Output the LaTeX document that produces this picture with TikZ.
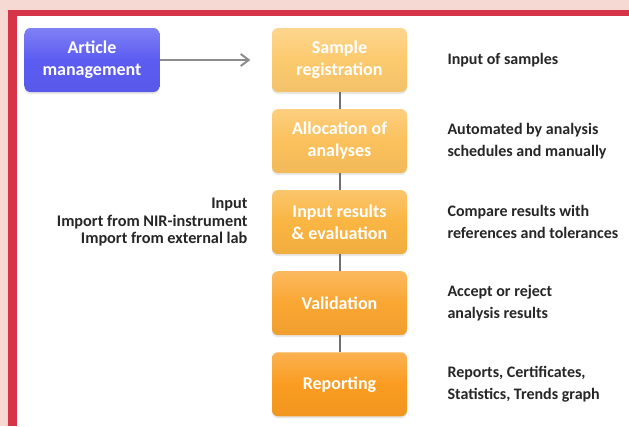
\documentclass[tikz,border=0pt]{standalone}
\usepackage{fontspec}
\setmainfont{Carlito}
\usetikzlibrary{arrows.meta,positioning,shadows}
\definecolor{framepink}{RGB}{246,217,211}
\definecolor{framered}{RGB}{214,52,72}
\definecolor{articleblue}{RGB}{92,92,242}
\definecolor{stepone}{RGB}{252,202,110}
\definecolor{steptwo}{RGB}{251,193,92}
\definecolor{stepthree}{RGB}{250,181,66}
\definecolor{stepfour}{RGB}{250,166,50}
\definecolor{stepfive}{RGB}{250,156,32}
\definecolor{linkgrey}{RGB}{112,112,112}
\definecolor{arrowgrey}{RGB}{140,140,140}
\tikzset{
  stepbox/.style={
    rounded corners=4.5pt,
    top color=#1!78!white,
    bottom color=#1!96!black,
    middle color=#1,
    text=white,
    align=center,
    minimum width=101.25pt,
    minimum height=48pt,
    inner sep=2pt,
    drop shadow={opacity=0.18, shadow xshift=0pt, shadow yshift=-1.5pt},
    font=\fontsize{13.5}{16.5}\selectfont\bfseries
  },
  note/.style={
    align=left,
    inner sep=0pt,
    text=black!85,
    font=\fontsize{12}{16.5}\selectfont\bfseries
  },
  sidenote/.style={
    align=right,
    inner sep=0pt,
    text=black!85,
    font=\fontsize{12.2}{13}\selectfont\bfseries
  },
  link/.style={
    line width=1.5pt,
    linkgrey
  },
  feed/.style={
    -{Straight Barb[length=6pt,width=9pt,line width=1.5pt]},
    line width=1.5pt,
    arrowgrey,
    shorten >=16pt
  }
}

\begin{document}
\begin{tikzpicture}[x=0.75pt,y=-0.75pt]
\useasboundingbox (0,0) rectangle (629,426);
% frame
\fill[framepink] (0,0) rectangle (629,426);
\fill[framered] (8,10) rectangle (629,426);
\fill[white] (17,16) rectangle (629,426);

% process chain
\node[stepbox=stepone] (samp) at (339.5,60) {Sample\\registration};
\node[stepbox=steptwo, below=12.4pt of samp] (alloc) {Allocation of\\analyses};
\node[stepbox=stepthree, below=12.4pt of alloc] (inp) {Input results\\\& evaluation};
\node[stepbox=stepfour, below=12.4pt of inp] (valid) {Validation};
\node[stepbox=stepfive, below=12.4pt of valid] (rep) {Reporting};
\node[stepbox=articleblue, left=84pt of samp] (art) {Article\\management};

% notes
\node[note, right=30pt of samp] (nsamp) {Input of samples};
\node[note, right=30pt of alloc] (nalloc) {Automated by analysis\\schedules and manually};
\node[note, right=30pt of inp] (ninp) {Compare results with\\references and tolerances};
\node[note, right=30pt of valid] (nvalid) {Accept or reject\\analysis results};
\node[note, right=30pt of rep] (nrep) {Reports, Certificates,\\Statistics, Trends graph};
\node[sidenote, left=18pt of inp] (src) {Input\\Import from NIR-instrument\\Import from external lab};

\draw[feed] (art) -- (samp);
\draw[link] (samp) -- (alloc);
\draw[link] (alloc) -- (inp);
\draw[link] (inp) -- (valid);
\draw[link] (valid) -- (rep);
\end{tikzpicture}
\end{document}
